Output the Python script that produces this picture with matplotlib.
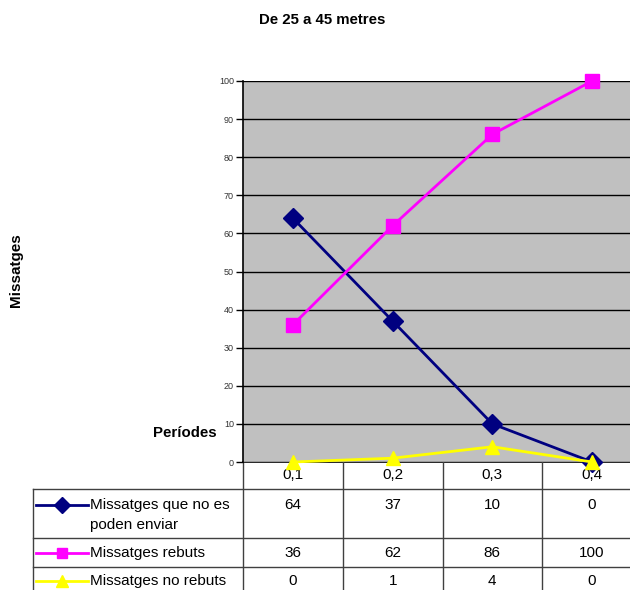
import matplotlib
matplotlib.use("Agg")
import matplotlib.pyplot as plt
from matplotlib.transforms import blended_transform_factory
from matplotlib.lines import Line2D

plt.rcParams['font.family'] = ['Liberation Sans', 'DejaVu Sans']

title = "De 25 a 45 metres"
categories = ["0,1", "0,2", "0,3", "0,4"]
series_names = ["Missatges que no es\npoden enviar", "Missatges rebuts", "Missatges no rebuts"]
no_enviar = [64, 37, 10, 0]
rebuts = [36, 62, 86, 100]
no_rebuts = [0, 1, 4, 0]
yticks = list(range(0, 101, 10))

series = [no_enviar, rebuts, no_rebuts]
colors = ["#000080", "#FF00FF", "#FFFF00"]
markers = ["D", "s", "^"]
msizes = [10, 10.5, 10.5]
leg_msizes = [8, 7, 8]

W, H = 630, 590
fig = plt.figure(figsize=(W / 100, H / 100), dpi=100)

# main plot area in pixel coords
L, R, T, B = 243, 642, 81, 462
ax = fig.add_axes([L / W, 1 - B / H, (R - L) / W, (B - T) / H])
ax.set_facecolor("#C0C0C0")
x = list(range(len(categories)))
for s, c, m, ms in zip(series, colors, markers, msizes):
    ax.plot(x, s, color=c, marker=m, markersize=ms, linewidth=2, clip_on=False,
            markeredgecolor=c, zorder=3)
ax.set_xlim(-0.5, len(categories) - 0.5)
ax.set_ylim(0, 100)
ax.set_yticks(yticks)
ax.set_yticklabels([str(v) for v in yticks], fontsize=6.5, color="#333333")
ax.tick_params(axis='y', length=5, width=1, pad=1.5, direction='out', color='black')
ax.set_xticks([])
ax.grid(axis='y', color='black', linewidth=1)
ax.set_axisbelow(True)
for sp in ['top', 'right', 'bottom']:
    ax.spines[sp].set_visible(False)
ax.spines['left'].set_linewidth(1.2)

# overlay in pixel coords
ov = fig.add_axes([0, 0, 1, 1], zorder=-1)
ov.set_xlim(0, W)
ov.set_ylim(H, 0)
ov.axis('off')
ov.patch.set_alpha(0)
tr = blended_transform_factory(ax.transData, ov.transData)

fig.text(322 / W, 1 - 20 / H, title, ha='center', va='center', fontsize=10.8, fontweight='bold')
fig.text(16 / W, 1 - 270 / H, "Missatges", ha='center', va='center', rotation=90,
         fontsize=11, fontweight='bold')
fig.text(217 / W, 1 - 433 / H, "Períodes", ha='right', va='center', fontsize=10.8, fontweight='bold')

# table geometry (pixel y)
y_head_bot = 489
row_tops = [489, 538, 567]
left_border = 33
lc = "#404040"

# horizontal lines
ov.plot([L, R], [B, B], color='black', lw=1.2)
for yy in row_tops:
    ov.plot([left_border, W + 20], [yy, yy], color=lc, lw=1)
# vertical lines
for b in [-0.5, 0.5, 1.5, 2.5]:
    ov.plot([b, b], [B, H + 10], color=lc, lw=1, transform=tr)
ov.plot([left_border, left_border], [y_head_bot, H + 10], color=lc, lw=1)

# header labels
for i, c in enumerate(categories):
    ov.text(i, 475, c, transform=tr, ha='center', va='center', fontsize=11)

# rows
value_y = [505, 553, 581]
for r, (name, s, c, m, lms) in enumerate(zip(series_names, series, colors, markers, leg_msizes)):
    ly = value_y[r]
    ov.add_line(Line2D([36, 88], [ly, ly], color=c, lw=2))
    ov.plot([62], [ly], marker=m, color=c, markersize=lms, markeredgecolor=c)
    for k, line in enumerate(name.split("\n")):
        ov.text(90, ly + 20 * k, line, ha='left', va='center', fontsize=11)
    for i, v in enumerate(s):
        ov.text(i, ly, str(v), transform=tr, ha='center', va='center', fontsize=11)

fig.savefig("out.png", dpi=100)
